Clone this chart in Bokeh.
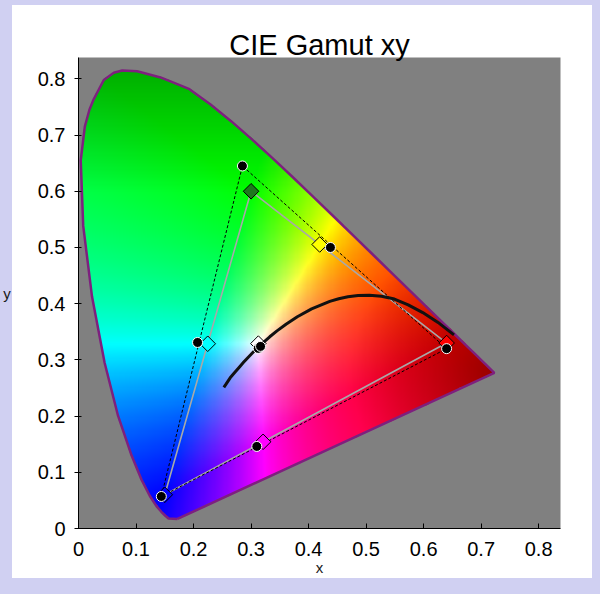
import numpy as np
from bokeh.plotting import figure
from bokeh.models import FixedTicker
from bokeh.embed import file_html
from bokeh.resources import INLINE

# ---------------- data ----------------
# spectral locus outline (violet end -> red end)
locus_x = [0.1720, 0.1566, 0.1510, 0.1440, 0.1355, 0.1241, 0.1096, 0.0913, 0.0687, 0.0454,
           0.0235, 0.0082, 0.0039, 0.0110, 0.0190, 0.0266, 0.0440, 0.0614, 0.0760, 0.1020,
           0.1426, 0.1717, 0.1929, 0.2296, 0.2658, 0.3016, 0.3373, 0.3731, 0.4087, 0.4441,
           0.4788, 0.5125, 0.5448, 0.5752, 0.6029, 0.6270, 0.6482, 0.6658, 0.6801, 0.6915,
           0.7006, 0.7079, 0.7140, 0.7190, 0.7230]
locus_y = [0.0170, 0.0177, 0.0227, 0.0297, 0.0399, 0.0578, 0.0868, 0.1327, 0.2007, 0.2950,
           0.4127, 0.5384, 0.6548, 0.7150, 0.7450, 0.7640, 0.7980, 0.8110, 0.8150, 0.8135,
           0.8025, 0.7905, 0.7816, 0.7543, 0.7243, 0.6923, 0.6589, 0.6245, 0.5896, 0.5547,
           0.5202, 0.4866, 0.4544, 0.4242, 0.3965, 0.3725, 0.3514, 0.3340, 0.3197, 0.3083,
           0.2993, 0.2920, 0.2859, 0.2809, 0.2770]

# Planckian locus (1000 K ... 25000 K)
planck_x = [0.6528, 0.6250, 0.5985, 0.5732, 0.5492, 0.5267, 0.5056, 0.4862, 0.4685, 0.4525,
            0.4369, 0.4053, 0.3805, 0.3608, 0.3451, 0.3325, 0.3221, 0.3135, 0.3064, 0.2952,
            0.2869, 0.2807, 0.2719, 0.2637, 0.2568, 0.2527]
planck_y = [0.3444, 0.3667, 0.3842, 0.3978, 0.4083, 0.4133, 0.4152, 0.4147, 0.4123, 0.4087,
            0.4041, 0.3907, 0.3768, 0.3635, 0.3516, 0.3411, 0.3318, 0.3237, 0.3166, 0.3048,
            0.2956, 0.2884, 0.2779, 0.2681, 0.2574, 0.2512]

# gamut 1 (dashed, black dots): R, G, B primaries
g1_tri_x = [0.640, 0.285, 0.144]
g1_tri_y = [0.320, 0.645, 0.057]
# gamut 1 points: R, G, B, Y, C, M, W, W2
g1_pt_x = [0.640, 0.285, 0.144, 0.438, 0.207, 0.310, 0.3125, 0.3165]
g1_pt_y = [0.320, 0.645, 0.057, 0.500, 0.331, 0.146, 0.3205, 0.3240]

# gamut 2 (sRGB, grey, diamonds): R, G, B primaries
g2_tri_x = [0.640, 0.300, 0.150]
g2_tri_y = [0.330, 0.600, 0.060]
# gamut 2 points: R, G, B, Y, C, M, W
g2_pt_x = [0.640, 0.300, 0.150, 0.4193, 0.2247, 0.3209, 0.3127]
g2_pt_y = [0.330, 0.600, 0.060, 0.5053, 0.3287, 0.1542, 0.3290]
g2_colors = ["#ff0000", "#1e781e", "#0000ff", "#ffff00", "#00ffff", "#ff00ff", "#ffffff"]

tick_values = [0.0, 0.1, 0.2, 0.3, 0.4, 0.5, 0.6, 0.7, 0.8]
tick_labels = ["0", "0.1", "0.2", "0.3", "0.4", "0.5", "0.6", "0.7", "0.8"]

TITLE = "CIE Gamut xy"
XLABEL = "x"
YLABEL = "y"

LAV = "#d0d0f2"
FONT = "Liberation Sans"

# ---------------- chromaticity fill image ----------------
NX, NY = 400, 440
IX0, IX1, IY0, IY1 = 0.0, 0.76, 0.0, 0.84
xs = IX0 + (np.arange(NX) + 0.5) * (IX1 - IX0) / NX
ys = IY0 + (np.arange(NY) + 0.5) * (IY1 - IY0) / NY
XX, YY = np.meshgrid(xs, ys)

px = np.array(locus_x + [locus_x[0]])
py = np.array(locus_y + [locus_y[0]])
inside = np.zeros(XX.shape, dtype=bool)
for i in range(len(px) - 1):
    xa, ya, xb, yb = px[i], py[i], px[i + 1], py[i + 1]
    cond = (ya > YY) != (yb > YY)
    xint = xa + (YY - ya) * (xb - xa) / ((yb - ya) if yb != ya else 1e-12)
    inside ^= cond & (XX < xint)

yy = np.maximum(YY, 1e-4)
Xc = XX / yy
Zc = (1.0 - XX - YY) / yy
R = 3.2406 * Xc - 1.5372 - 0.4986 * Zc
G = -0.9689 * Xc + 1.8758 + 0.0415 * Zc
B = 0.0557 * Xc - 0.2040 + 1.0570 * Zc
lin = np.clip(np.stack([R, G, B], axis=-1), 0, None)
lin = lin / np.maximum(lin.max(axis=-1, keepdims=True), 1e-9)
rgb = np.power(lin, 0.95)
d_red = np.hypot(XX - 0.725, YY - 0.28)
f = (1 - 0.4 * np.clip(1 - d_red / 0.25, 0, 1)) * (1 - 0.32 * np.clip((YY - 0.6) / 0.22, 0, 1))
rgb = np.clip(rgb * f[..., None], 0, 1)

img = np.empty((NY, NX), dtype=np.uint32)
view = img.view(dtype=np.uint8).reshape((NY, NX, 4))
view[..., 0] = (rgb[..., 0] * 255).astype(np.uint8)
view[..., 1] = (rgb[..., 1] * 255).astype(np.uint8)
view[..., 2] = (rgb[..., 2] * 255).astype(np.uint8)
view[..., 3] = np.where(inside, 255, 0).astype(np.uint8)

# ---------------- figure ----------------
p = figure(width=584, height=578,
           x_range=(0, 0.838), y_range=(0, 0.838),
           output_backend="svg", toolbar_location=None,
           min_border_left=78, min_border_right=24, min_border_top=57, min_border_bottom=50,
           border_fill_color=None, background_fill_color="#808080", outline_line_color=None)
p.styles = {
    "background": "linear-gradient(#ffffff, #ffffff) 12px 5px / 572px 573px no-repeat, " + LAV,
    "box-shadow": "10.5px 2.5px 0 -2.5px #ffffff, 0 0 0 16px " + LAV,
}
p.grid.visible = False

p.title.text = TITLE
p.title.align = "center"
p.title.text_font = FONT
p.title.text_font_size = "29px"
p.title.text_font_style = "normal"
p.title.text_color = "black"
p.title.standoff = -6

p.image_rgba(image=[img], x=IX0, y=IY0, dw=IX1 - IX0, dh=IY1 - IY0)

p.line(locus_x + [locus_x[0]], locus_y + [locus_y[0]], line_color="#7e207e", line_width=2.5)

p.line(g2_tri_x + [g2_tri_x[0]], g2_tri_y + [g2_tri_y[0]], line_color="#a8a8a8", line_width=1.6)
p.line(g1_tri_x + [g1_tri_x[0]], g1_tri_y + [g1_tri_y[0]], line_color="black",
       line_width=1, line_dash="3 2")

p.scatter(g2_pt_x, g2_pt_y, marker="square", angle=np.pi / 4, size=11,
          fill_color=g2_colors, line_color="black", line_width=1)

p.line(planck_x, planck_y, line_color="#111111", line_width=3)

p.scatter(g1_pt_x, g1_pt_y, marker="circle", size=10, fill_color="black",
          line_color="white", line_width=1)

overrides = dict(zip(tick_values, tick_labels))
for ax in (p.xaxis[0], p.yaxis[0]):
    ax.ticker = FixedTicker(ticks=tick_values)
    ax.major_label_overrides = overrides
    ax.major_label_text_font = FONT
    ax.major_label_text_font_size = "20px"
    ax.major_label_text_color = "black"
    ax.axis_line_color = "black"
    ax.major_tick_line_color = "black"
    ax.minor_tick_line_color = None
    ax.axis_label_text_font = FONT
    ax.axis_label_text_font_size = "15px"
    ax.axis_label_text_font_style = "normal"
    ax.axis_label_text_color = "#1a1a1a"
p.xaxis.major_tick_in = 5
p.xaxis.major_tick_out = 0
p.xaxis.major_label_standoff = 13
p.xaxis.axis_label = XLABEL
p.xaxis.axis_label_standoff = 0
p.yaxis.major_tick_in = 3
p.yaxis.major_tick_out = 4
p.yaxis.major_label_standoff = 9
p.yaxis.axis_label = YLABEL
p.yaxis.axis_label_orientation = "horizontal"
p.yaxis.axis_label_standoff = 24

open("out.html", "w").write(file_html(p, INLINE))
